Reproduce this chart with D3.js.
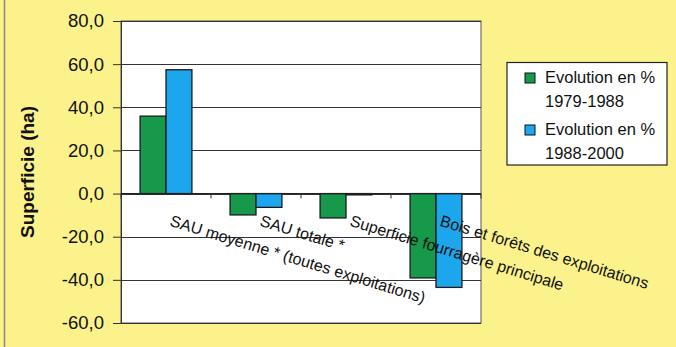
<!DOCTYPE html>
<html><head><meta charset="utf-8">
<script src="https://cdn.jsdelivr.net/npm/d3@7"></script>
<style>
html,body{margin:0;padding:0;background:#FBF28E;}
svg{display:block;font-family:"Liberation Sans",Arial,sans-serif;}
</style></head>
<body>
<svg id="chart" width="676" height="347"></svg>
<script>
const categories = ["SAU moyenne * (toutes exploitations)", "SAU totale *", "Superficie fourragère principale", "Bois et forêts des exploitations"];
const seriesNames = ["Evolution en %|1979-1988", "Evolution en %|1988-2000"];
const series1 = [35.9, -9.9, -11.3, -39.1];
const series2 = [57.4, -6.4, -0.6, -43.5];
const yTicks = [80, 60, 40, 20, 0, -20, -40, -60];
const colors = ["#17994C", "#1BA6EE"];

const svg = d3.select("#chart");
const W = 676, H = 347;
svg.append("rect").attr("x",0).attr("y",0).attr("width",W).attr("height",H).attr("fill","#FBF28C");
svg.append("line").attr("x1",4.5).attr("x2",4.5).attr("y1",0).attr("y2",H).attr("stroke","#888").attr("stroke-width",1.5);

const plot = {l:121, t:21, r:481, b:323};
const y = d3.scaleLinear().domain([-60,80]).range([plot.b, plot.t]);
const x0 = d3.scaleBand().domain(categories).range([plot.l, plot.r]).paddingInner(0.424).paddingOuter(0.212);
const x1 = d3.scaleBand().domain([0,1]).range([0, x0.bandwidth()]);

svg.append("rect").attr("x",plot.l).attr("y",plot.t).attr("width",plot.r-plot.l).attr("height",plot.b-plot.t)
  .attr("fill","#fff").attr("stroke","#555").attr("stroke-width",1);

// gridlines
svg.append("g").selectAll("line").data(yTicks).join("line")
  .attr("x1",plot.l).attr("x2",plot.r).attr("y1",d=>Math.round(y(d))+0.5).attr("y2",d=>Math.round(y(d))+0.5)
  .attr("stroke","#333").attr("stroke-width",1);

// y axis
const fmt = d => d3.format(".1f")(d).replace(".", ",").replace("−","-");
const yAxis = svg.append("g").attr("transform",`translate(${plot.l},0)`)
  .call(d3.axisLeft(y).tickValues(yTicks).tickFormat(fmt).tickSizeOuter(0).tickSize(8).tickPadding(9));
yAxis.select(".domain").attr("stroke","#333");
yAxis.selectAll(".tick line").attr("stroke","#333");
yAxis.selectAll("text").attr("font-size","18.5px").attr("fill","#111").attr("font-family","'Liberation Sans',Arial,sans-serif");

// y title
svg.append("text").attr("transform",`translate(34,${(plot.t+plot.b)/2}) rotate(-90)`)
  .attr("text-anchor","middle").attr("font-weight","bold").attr("font-size","19px").attr("fill","#111")
  .text("Superficie (ha)");

// bars
const data = categories.map((c,i)=>({c, v:[series1[i], series2[i]]}));
const g = svg.append("g");
data.forEach(d=>{
  d.v.forEach((v,j)=>{
    g.append("rect")
      .attr("x", x0(d.c)+x1(j)).attr("width", x1.bandwidth())
      .attr("y", y(Math.max(0,v))).attr("height", Math.abs(y(v)-y(0)))
      .attr("fill", colors[j]).attr("stroke","#1a1a1a").attr("stroke-width",1.3);
  });
});

// x axis at zero
const xAxis = svg.append("g").attr("transform",`translate(0,${y(0)})`);
xAxis.append("line").attr("x1",plot.l).attr("x2",plot.r).attr("stroke","#222").attr("stroke-width",1.3);
const step = x0.step();
xAxis.selectAll("line.t").data(d3.range(categories.length+1)).join("line").attr("class","t")
  .attr("x1",i=>plot.l+i*step).attr("x2",i=>plot.l+i*step).attr("y1",0).attr("y2",5)
  .attr("stroke","#333");

// category labels
svg.append("g").selectAll("text").data(categories).join("text")
  .attr("transform",d=>`translate(${x0(d)+x0.bandwidth()/2+3},${y(0)+32}) rotate(17)`)
  .attr("font-size","16px").attr("fill","#111").text(d=>d);

// legend
const lg = svg.append("g");
lg.append("rect").attr("x",507).attr("y",62.5).attr("width",160).attr("height",102.5)
  .attr("fill","#fff").attr("stroke","#222").attr("stroke-width",1.2);
seriesNames.forEach((s,i)=>{
  const by = 83 + i*52;
  lg.append("rect").attr("x",525).attr("y",by-10).attr("width",10).attr("height",10)
    .attr("fill",colors[i]).attr("stroke","#111").attr("stroke-width",1);
  const parts = s.split("|");
  parts.forEach((p,k)=>{
    lg.append("text").attr("x",545).attr("y",by+k*24).attr("font-size","16.5px").attr("fill","#111").text(p);
  });
});
</script>
</body></html>
